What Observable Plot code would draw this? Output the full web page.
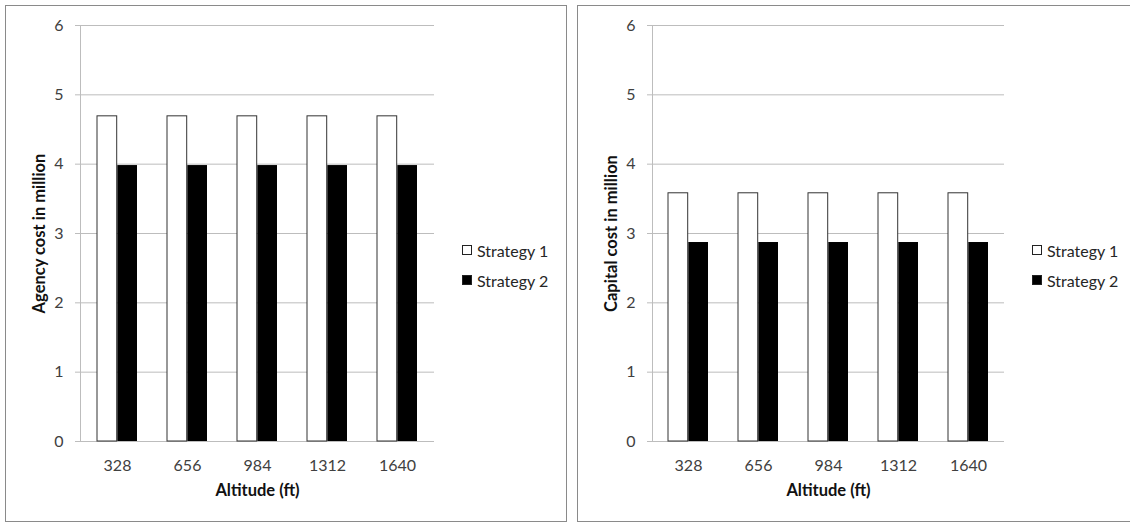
<!DOCTYPE html>
<html>
<head>
<meta charset="utf-8">
<script src="https://cdn.jsdelivr.net/npm/d3@7"></script>
<script src="https://cdn.jsdelivr.net/npm/@observablehq/plot@0.6"></script>
<style>
  html, body { margin: 0; padding: 0; background: #fff; }
  #wrap { position: relative; width: 1130px; height: 523px; overflow: hidden; font-family: Lato, "Open Sans", sans-serif; }
  .panel { position: absolute; box-sizing: border-box; border: 1.5px solid #8a8a8a; pointer-events: none; }
  .chart { position: absolute; top: 0; }
  .legend { position: absolute; font-size: 16px; color: #262626; }
  .legend .row { position: absolute; white-space: nowrap; display: flex; align-items: center; height: 20px; }
  .legend .sw { width: 10px; height: 10px; box-sizing: border-box; border: 1px solid #222; margin-right: 5px; }
</style>
</head>
<body>
<div id="wrap"></div>
<script>
// ---- data ----
const altitudes = ["328", "656", "984", "1312", "1640"];
const seriesNames = ["Strategy 1", "Strategy 2"];
const agencyStrategy1 = [4.69, 4.69, 4.69, 4.69, 4.69];
const agencyStrategy2 = [3.98, 3.98, 3.98, 3.98, 3.98];
const capitalStrategy1 = [3.58, 3.58, 3.58, 3.58, 3.58];
const capitalStrategy2 = [2.87, 2.87, 2.87, 2.87, 2.87];
const yTicks = [0, 1, 2, 3, 4, 5, 6];
const xTitle = "Altitude (ft)";
const yTitles = ["Agency cost in million", "Capital cost in million"];

const seriesFill = ["#ffffff", "#000000"];

function makeChart(s1, s2, yTitle, width, marginRight) {
  const d1 = altitudes.map((a, i) => ({alt: a, v: s1[i]}));
  const d2 = altitudes.map((a, i) => ({alt: a, v: s2[i]}));
  const half = 20.3;
  return Plot.plot({
    width, height: 523,
    marginLeft: 80, marginRight, marginTop: 25, marginBottom: 82,
    style: {fontFamily: "Lato, 'Open Sans', sans-serif", fontSize: "16px", background: "none", color: "#404040", overflow: "visible"},
    x: {domain: altitudes, paddingInner: 0.426, paddingOuter: 0.213, label: null, axis: null},
    y: {domain: [0, 6], label: null, axis: null},
    marks: [
      Plot.gridY(yTicks, {stroke: "#bdbdbd", strokeOpacity: 1}),
      Plot.axisY(yTicks, {tickSize: 5, tickPadding: 12, stroke: "#bdbdbd", fill: "#404040", tickFormat: "d", fontSize: 16, label: null}),
      Plot.frame({anchor: "left", stroke: "#bdbdbd"}),
      Plot.barY(d1, {x: "alt", y: "v", fill: seriesFill[0], stroke: "#333", strokeWidth: 1, insetRight: half}),
      Plot.barY(d2, {x: "alt", y: "v", fill: seriesFill[1], insetLeft: half}),
      Plot.axisX({tickSize: 0, tickPadding: 18, fill: "#404040", fontSize: 16, label: null}),
      Plot.text([xTitle], {frameAnchor: "bottom", dy: 54, fontWeight: "bold", fontSize: 16.5, fill: "#111", textAnchor: "middle"}),
      Plot.text([yTitle], {frameAnchor: "left", dx: -41, rotate: -90, fontWeight: "bold", fontSize: 16.5, fill: "#111", textAnchor: "middle"})
    ]
  });
}

const wrap = document.getElementById("wrap");

function place(el, left) {
  el.classList.add("chart");
  el.style.left = left + "px";
  wrap.appendChild(el);
}

place(makeChart(agencyStrategy1, agencyStrategy2, yTitles[0], 565, 131), 0);
place(makeChart(capitalStrategy1, capitalStrategy2, yTitles[1], 558, 126), 572);

function legend(left) {
  const lg = document.createElement("div");
  lg.className = "legend";
  lg.style.left = left + "px";
  lg.style.top = "0px";
  seriesNames.forEach((name, i) => {
    const row = document.createElement("div");
    row.className = "row";
    row.style.top = (240 + i * 30) + "px";
    const sw = document.createElement("span");
    sw.className = "sw";
    sw.style.background = seriesFill[i];
    row.appendChild(sw);
    row.appendChild(document.createTextNode(name));
    lg.appendChild(row);
  });
  wrap.appendChild(lg);
}
legend(462);
legend(1032);

function panel(left, top, w, h) {
  const p = document.createElement("div");
  p.className = "panel";
  Object.assign(p.style, {left: left + "px", top: top + "px", width: w + "px", height: h + "px"});
  wrap.appendChild(p);
}
panel(5, 5, 562, 517);
panel(577, 5, 600, 517);
</script>
</body>
</html>
